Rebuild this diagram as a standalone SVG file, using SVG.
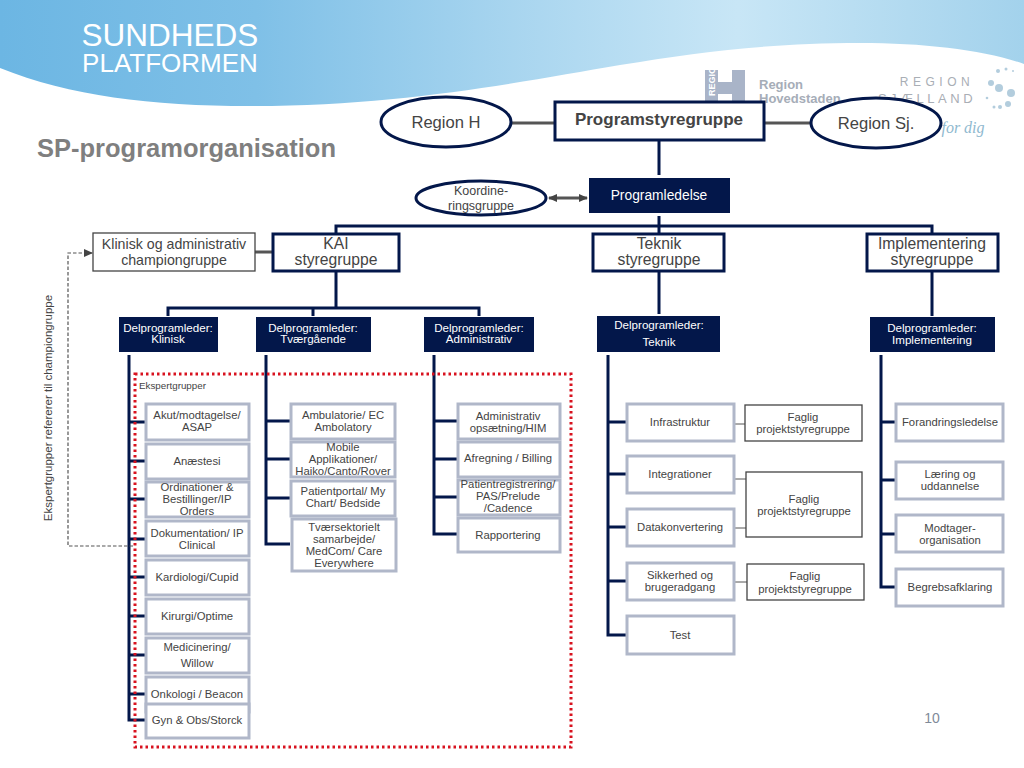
<svg xmlns="http://www.w3.org/2000/svg" width="1024" height="768" viewBox="0 0 1024 768">
<style>
text{font-family:"Liberation Sans",Arial,sans-serif;fill:#444;text-anchor:middle}
.t10{font-size:11.5px}.t11{font-size:11.3px}.t12{font-size:12.5px}.t14{font-size:15.7px}.t16{font-size:16.6px}
.dp{font-size:11.6px;fill:#fff}
.exp{fill:#fff;stroke:#b0b7c9;stroke-width:3}
.dark{fill:#03174a}
.sty{fill:#fff;stroke:#03174a;stroke-width:3}
.ell{fill:#fff;stroke:#03174a;stroke-width:3}
.fag{fill:#fff;stroke:#444;stroke-width:1.3}
.c{fill:none;stroke:#03174a;stroke-width:3}
.g{fill:none;stroke:#555;stroke-width:3}
.h{fill:none;stroke:#555;stroke-width:1}
</style>
<defs>
<linearGradient id="band" x1="0" x2="1" y1="0" y2="0"><stop offset="0" stop-color="#6cb6e3"/><stop offset=".25" stop-color="#7fc0e7"/><stop offset=".5" stop-color="#a8d5ef"/><stop offset=".72" stop-color="#c8e6f6"/><stop offset="1" stop-color="#a3d2ec"/></linearGradient>
<marker id="ah" markerWidth="9" markerHeight="8" refX="8" refY="4" orient="auto-start-reverse" markerUnits="userSpaceOnUse"><path d="M0 0L9 4L0 8Z" fill="#444"/></marker>
</defs>
<g id="header">
<path d="M0 0H1024V64C985 50 925 43 860 43C770 43 700 52 620 65C520 82 400 106 250 106C150 106 70 96 0 68Z" fill="url(#band)"/>
<text x="170" y="46" style="font-size:31.5px;fill:#fff">SUNDHEDS</text>
<text x="170" y="72" style="font-size:26px;fill:#fff">PLATFORMEN</text>
<text x="37" y="157" style="font-size:25.5px;font-weight:bold;fill:#7f7f7f;text-anchor:start">SP-programorganisation</text>
</g>
<g id="logos">
<path d="M705 70H718V82H732V70H745V102H732V94H718V102H705Z" fill="#a9b4c8"/>
<text transform="translate(715 96) rotate(-90)" style="font-size:9px;font-weight:bold;fill:#fff;text-anchor:start">REGION</text>
<text x="759" y="89" style="font-size:13px;font-weight:bold;fill:#a6adb8;text-anchor:start">Region</text>
<text x="759" y="103" style="font-size:13px;font-weight:bold;fill:#a6adb8;text-anchor:start">Hovedstaden</text>
<text x="937" y="86" style="font-size:12px;fill:#a9aeb5;letter-spacing:4.5px">REGION</text>
<text x="927" y="103" style="font-size:13px;fill:#a9aeb5;letter-spacing:3.5px">SJÆLLAND</text>
<text x="963" y="133" style="font-size:16px;font-style:italic;fill:#8fb9cf;font-family:'Liberation Serif',serif">for dig</text>
<g fill="#b3cddd"><circle cx="998" cy="71" r="2"/><circle cx="1006" cy="69" r="1.5"/><circle cx="1013" cy="71" r="1"/><circle cx="991" cy="83" r="3"/><circle cx="999" cy="88" r="4"/><circle cx="1011" cy="93" r="4"/><circle cx="1008" cy="104" r="3"/><circle cx="1000" cy="107" r="2"/><circle cx="994" cy="107" r="1.5"/><circle cx="987" cy="98" r="1.3"/></g>
</g>
<g id="connectors">
<path class="g" d="M512 123H556M764 123H812M255 252H274"/>
<path class="g" d="M549 198H587" marker-start="url(#ah)" marker-end="url(#ah)"/>
<path class="c" d="M659 140V175M659 216V236M336 236V226H932V236"/>
<path class="c" d="M336 271V308M168 316V308H479V316M313 308V316M659 271V314M932 271V316"/>
<path class="c" d="M129 355V720H146M129 422H146M129 461H146M129 499H146M129 539H146M129 577H146M129 616H146M129 655H146M129 694H146"/>
<path class="c" d="M266 355V544H290M266 421H290M266 459H290M266 498H290"/>
<path class="c" d="M434 355V534H457M434 421H457M434 459H457M434 497H457"/>
<path class="c" d="M608 355V635H626M608 422H626M608 474H626M608 527H626M608 581H626"/>
<path class="c" d="M881 355V587H896M881 422H896M881 480H896M881 534H896"/>
<path class="h" d="M734 424H745M734 479H746M734 528H746M735 582H747"/>
<path d="M135 374H571V747H135Z" fill="none" stroke="#d8121f" stroke-width="3" stroke-dasharray="2.5 3"/>
<path d="M133 546H68V253H92" fill="none" stroke="#555" stroke-width="1.2" stroke-dasharray="3.5 2" marker-end="url(#ah)"/>
</g>
<g id="region-h"><ellipse class="ell" cx="446" cy="122" rx="65" ry="25"/><text class="t16" x="446" y="128">Region H</text></g>
<g id="programstyregruppe"><rect class="sty" x="555" y="102" width="209" height="38"/><text x="659" y="125" style="font-size:17px;font-weight:bold">Programstyregruppe</text></g>
<g id="region-sj"><ellipse class="ell" cx="876" cy="123" rx="65" ry="25"/><text class="t16" x="876" y="129">Region Sj.</text></g>
<g id="koordineringsgruppe"><ellipse class="ell" cx="481" cy="198" rx="65" ry="17"/><text class="t12" x="481" y="195">Koordine-</text><text class="t12" x="481" y="210">ringsgruppe</text></g>
<g id="programledelse"><rect class="dark" x="589" y="178" width="141" height="35"/><text x="659" y="200" style="font-size:13.8px;fill:#fff">Programledelse</text></g>
<g id="champion"><rect class="fag" x="93" y="233" width="162" height="38"/><text x="174" y="249" style="font-size:14.2px">Klinisk og administrativ</text><text x="174" y="265" style="font-size:14.2px">championgruppe</text></g>
<g id="kai"><rect class="sty" x="273" y="234" width="126" height="37"/><text class="t14" x="336" y="249">KAI</text><text class="t14" x="336" y="265">styregruppe</text></g>
<g id="teknik"><rect class="sty" x="593" y="234" width="131" height="37"/><text class="t14" x="659" y="249">Teknik</text><text class="t14" x="659" y="265">styregruppe</text></g>
<g id="implementering"><rect class="sty" x="867" y="234" width="131" height="37"/><text class="t14" x="932" y="249">Implementering</text><text class="t14" x="932" y="265">styregruppe</text></g>
<g id="dp-klinisk"><rect class="dark" x="119" y="317" width="99" height="35"/><text class="dp" x="168" y="332">Delprogramleder:</text><text class="dp" x="168" y="343">Klinisk</text></g>
<g id="dp-tvaergaaende"><rect class="dark" x="256" y="317" width="115" height="35"/><text class="dp" x="313" y="332">Delprogramleder:</text><text class="dp" x="313" y="343">Tværgående</text></g>
<g id="dp-administrativ"><rect class="dark" x="424" y="317" width="110" height="35"/><text class="dp" x="479" y="332">Delprogramleder:</text><text class="dp" x="479" y="343">Administrativ</text></g>
<g id="dp-teknik"><rect class="dark" x="597" y="316" width="123" height="36"/><text class="dp" x="659" y="329">Delprogramleder:</text><text class="dp" x="659" y="346">Teknik</text></g>
<g id="dp-implementering"><rect class="dark" x="870" y="317" width="125" height="35"/><text class="dp" x="932" y="332">Delprogramleder:</text><text class="dp" x="932" y="344">Implementering</text></g>
<g id="ekspertgrupper-label"><text x="139" y="389" style="font-size:9.8px;text-anchor:start">Ekspertgrupper</text></g>
<g id="vertical-label"><text class="t10" transform="translate(52 408) rotate(-90)">Ekspertgrupper refererer til championgruppe</text></g>
<g id="e1"><rect class="exp" x="146" y="404" width="103" height="36"/><text class="t11" x="197" y="419">Akut/modtagelse/</text><text class="t11" x="197" y="431">ASAP</text></g>
<g id="e2"><rect class="exp" x="146" y="444" width="103" height="35"/><text class="t11" x="197" y="465">Anæstesi</text></g>
<g id="e3"><rect class="exp" x="146" y="482" width="103" height="35"/><text class="t11" x="197" y="491">Ordinationer &amp;</text><text class="t11" x="197" y="503">Bestillinger/IP</text><text class="t11" x="197" y="515">Orders</text></g>
<g id="e4"><rect class="exp" x="146" y="521" width="103" height="35"/><text class="t11" x="197" y="537">Dokumentation/ IP</text><text class="t11" x="197" y="549">Clinical</text></g>
<g id="e5"><rect class="exp" x="146" y="560" width="103" height="35"/><text class="t11" x="197" y="581">Kardiologi/Cupid</text></g>
<g id="e6"><rect class="exp" x="146" y="599" width="103" height="35"/><text class="t11" x="197" y="620">Kirurgi/Optime</text></g>
<g id="e7"><rect class="exp" x="146" y="638" width="103" height="35"/><text class="t11" x="197" y="651">Medicinering/</text><text class="t11" x="197" y="667">Willow</text></g>
<g id="e8"><rect class="exp" x="146" y="677" width="103" height="35"/><text class="t11" x="197" y="698">Onkologi / Beacon</text></g>
<g id="e9"><rect class="exp" x="146" y="704" width="103" height="34"/><text class="t11" x="197" y="724">Gyn &amp; Obs/Storck</text></g>
<g id="t1"><rect class="exp" x="291" y="404" width="104" height="35"/><text class="t11" x="343" y="419">Ambulatorie/ EC</text><text class="t11" x="343" y="431">Ambolatory</text></g>
<g id="t2"><rect class="exp" x="291" y="442" width="104" height="35"/><text class="t11" x="343" y="451">Mobile</text><text class="t11" x="343" y="463">Applikationer/</text><text class="t11" x="343" y="475">Haiko/Canto/Rover</text></g>
<g id="t3"><rect class="exp" x="291" y="481" width="104" height="35"/><text class="t11" x="343" y="495">Patientportal/ My</text><text class="t11" x="343" y="507">Chart/ Bedside</text></g>
<g id="t4"><rect class="exp" x="292" y="519" width="104" height="52"/><text class="t11" x="344" y="531">Tværsektorielt</text><text class="t11" x="344" y="543">samarbejde/</text><text class="t11" x="344" y="555">MedCom/ Care</text><text class="t11" x="344" y="567">Everywhere</text></g>
<g id="a1"><rect class="exp" x="458" y="404" width="102" height="35"/><text class="t11" x="508" y="420">Administrativ</text><text class="t11" x="508" y="432">opsætning/HIM</text></g>
<g id="a2"><rect class="exp" x="458" y="442" width="102" height="35"/><text class="t11" x="508" y="462">Afregning / Billing</text></g>
<g id="a3"><rect class="exp" x="458" y="480" width="102" height="35"/><text class="t11" x="508" y="488">Patientregistrering/</text><text class="t11" x="508" y="500">PAS/Prelude</text><text class="t11" x="508" y="512">/Cadence</text></g>
<g id="a4"><rect class="exp" x="458" y="518" width="102" height="34"/><text class="t11" x="508" y="539">Rapportering</text></g>
<g id="i1"><rect class="exp" x="627" y="404" width="107" height="37"/><text class="t11" x="680" y="426">Infrastruktur</text></g>
<g id="i2"><rect class="exp" x="627" y="456" width="107" height="37"/><text class="t11" x="680" y="478">Integrationer</text></g>
<g id="i3"><rect class="exp" x="627" y="509" width="107" height="37"/><text class="t11" x="680" y="531">Datakonvertering</text></g>
<g id="i4"><rect class="exp" x="627" y="563" width="107" height="37"/><text class="t11" x="680" y="579">Sikkerhed og</text><text class="t11" x="680" y="591">brugeradgang</text></g>
<g id="i5"><rect class="exp" x="627" y="616" width="107" height="38"/><text class="t11" x="680" y="639">Test</text></g>
<g id="f1"><rect class="fag" x="745" y="405" width="117" height="36"/><text class="t11" x="803" y="421">Faglig</text><text class="t11" x="803" y="433">projektstyregruppe</text></g>
<g id="f2"><rect class="fag" x="746" y="472" width="116" height="65"/><text class="t11" x="804" y="503">Faglig</text><text class="t11" x="804" y="515">projektstyregruppe</text></g>
<g id="f3"><rect class="fag" x="747" y="564" width="117" height="36"/><text class="t11" x="805" y="580">Faglig</text><text class="t11" x="805" y="593">projektstyregruppe</text></g>
<g id="m1"><rect class="exp" x="896" y="404" width="107" height="37"/><text class="t11" x="950" y="426">Forandringsledelse</text></g>
<g id="m2"><rect class="exp" x="896" y="462" width="107" height="37"/><text class="t11" x="950" y="478">Læring og</text><text class="t11" x="950" y="490">uddannelse</text></g>
<g id="m3"><rect class="exp" x="896" y="515" width="107" height="37"/><text class="t11" x="950" y="532">Modtager-</text><text class="t11" x="950" y="544">organisation</text></g>
<g id="m4"><rect class="exp" x="896" y="569" width="107" height="37"/><text class="t11" x="950" y="591">Begrebsafklaring</text></g>
<g id="page"><text x="932" y="723" style="font-size:14px;fill:#7f8a99">10</text></g>
</svg>
